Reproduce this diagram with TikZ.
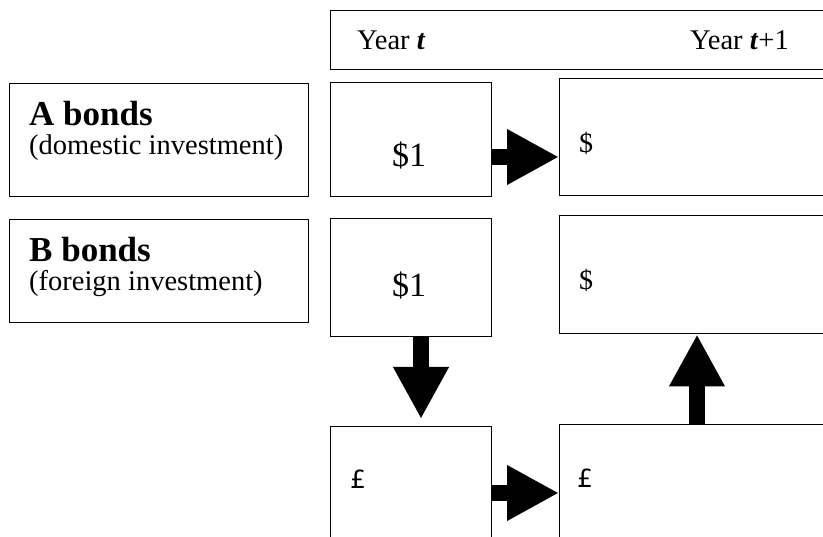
\documentclass[tikz,border=0pt]{standalone}
\usepackage{fontspec}
\setmainfont{Liberation Serif}
\newfontfamily\poundfont{DejaVu Sans}
\usetikzlibrary{arrows.meta}

\begin{document}
\begin{tikzpicture}[x=1pt,y=-1pt,
  box/.style={draw,line width=1.4pt,inner sep=0pt,anchor=north west},
  bigarrow/.style={line width=16pt,-{Triangle[width=52pt,length=52pt]}},
  txt/.style={inner sep=0pt,anchor=base west,font=\fontsize{28.5}{30}\selectfont},
  head/.style={inner sep=0pt,anchor=base west,font=\fontsize{35}{38}\selectfont\bfseries},
  amount/.style={inner sep=0pt,font=\fontsize{34}{36}\selectfont},
  cur/.style={inner sep=0pt,font=\fontsize{28}{30}\selectfont},
  pound/.style={inner sep=0pt,font=\poundfont\fontsize{25}{27}\selectfont}]
\useasboundingbox (0,0) rectangle (823,537);
\node[box,minimum width=500pt,minimum height=59pt] (hdr) at (330,10) {};
\node[box,minimum width=299pt,minimum height=113pt] (alab) at (9,83) {};
\node[box,minimum width=299pt,minimum height=103pt] (blab) at (9,219) {};
\node[box,minimum width=161pt,minimum height=114pt] (amid) at (330,82) {};
\node[box,minimum width=280pt,minimum height=117pt] (aend) at (559,78) {};
\node[box,minimum width=161pt,minimum height=118pt] (bmid) at (330,218) {};
\node[box,minimum width=280pt,minimum height=118pt] (bend) at (559,215) {};
\node[box,minimum width=161pt,minimum height=130pt] (cmid) at (330,426) {};
\node[box,minimum width=280pt,minimum height=130pt] (cend) at (559,424) {};

\node[txt] (yt) at (357,50) {Year \textbf{\textit{t}}};
\node[txt] (ytone) at (690,50) {Year \textbf{\textit{t}}+1};
\node[head] (ahead) at (29,126) {A bonds};
\node[txt] (adom) at (29,155) {(domestic investment)};
\node[head] (bhead) at (29,262) {B bonds};
\node[txt] (bfor) at (29,291) {(foreign investment)};
\node[amount] (aone) at (409,155) {\$1};
\node[amount] (bone) at (409,285) {\$1};
\node[cur] (adol) at (586,143) {\$};
\node[cur] (bdol) at (586,280) {\$};
\node[pound] (cpnd) at (358,479) {£};
\node[pound] (dpnd) at (585,478) {£};

\coordinate (ra) at (0,157);
\coordinate (rc) at (0,493);
\coordinate (dx) at (421,0);
\coordinate (ux) at (697,0);
\draw[bigarrow] (amid.east |- ra) -- (aend.west |- ra);
\draw[bigarrow] (cmid.east |- rc) -- (cend.west |- rc);
\draw[bigarrow,shorten >=7pt] (bmid.south -| dx) -- (cmid.north -| dx);
\draw[bigarrow] (cend.north -| ux) -- (bend.south -| ux);
\end{tikzpicture}
\end{document}
